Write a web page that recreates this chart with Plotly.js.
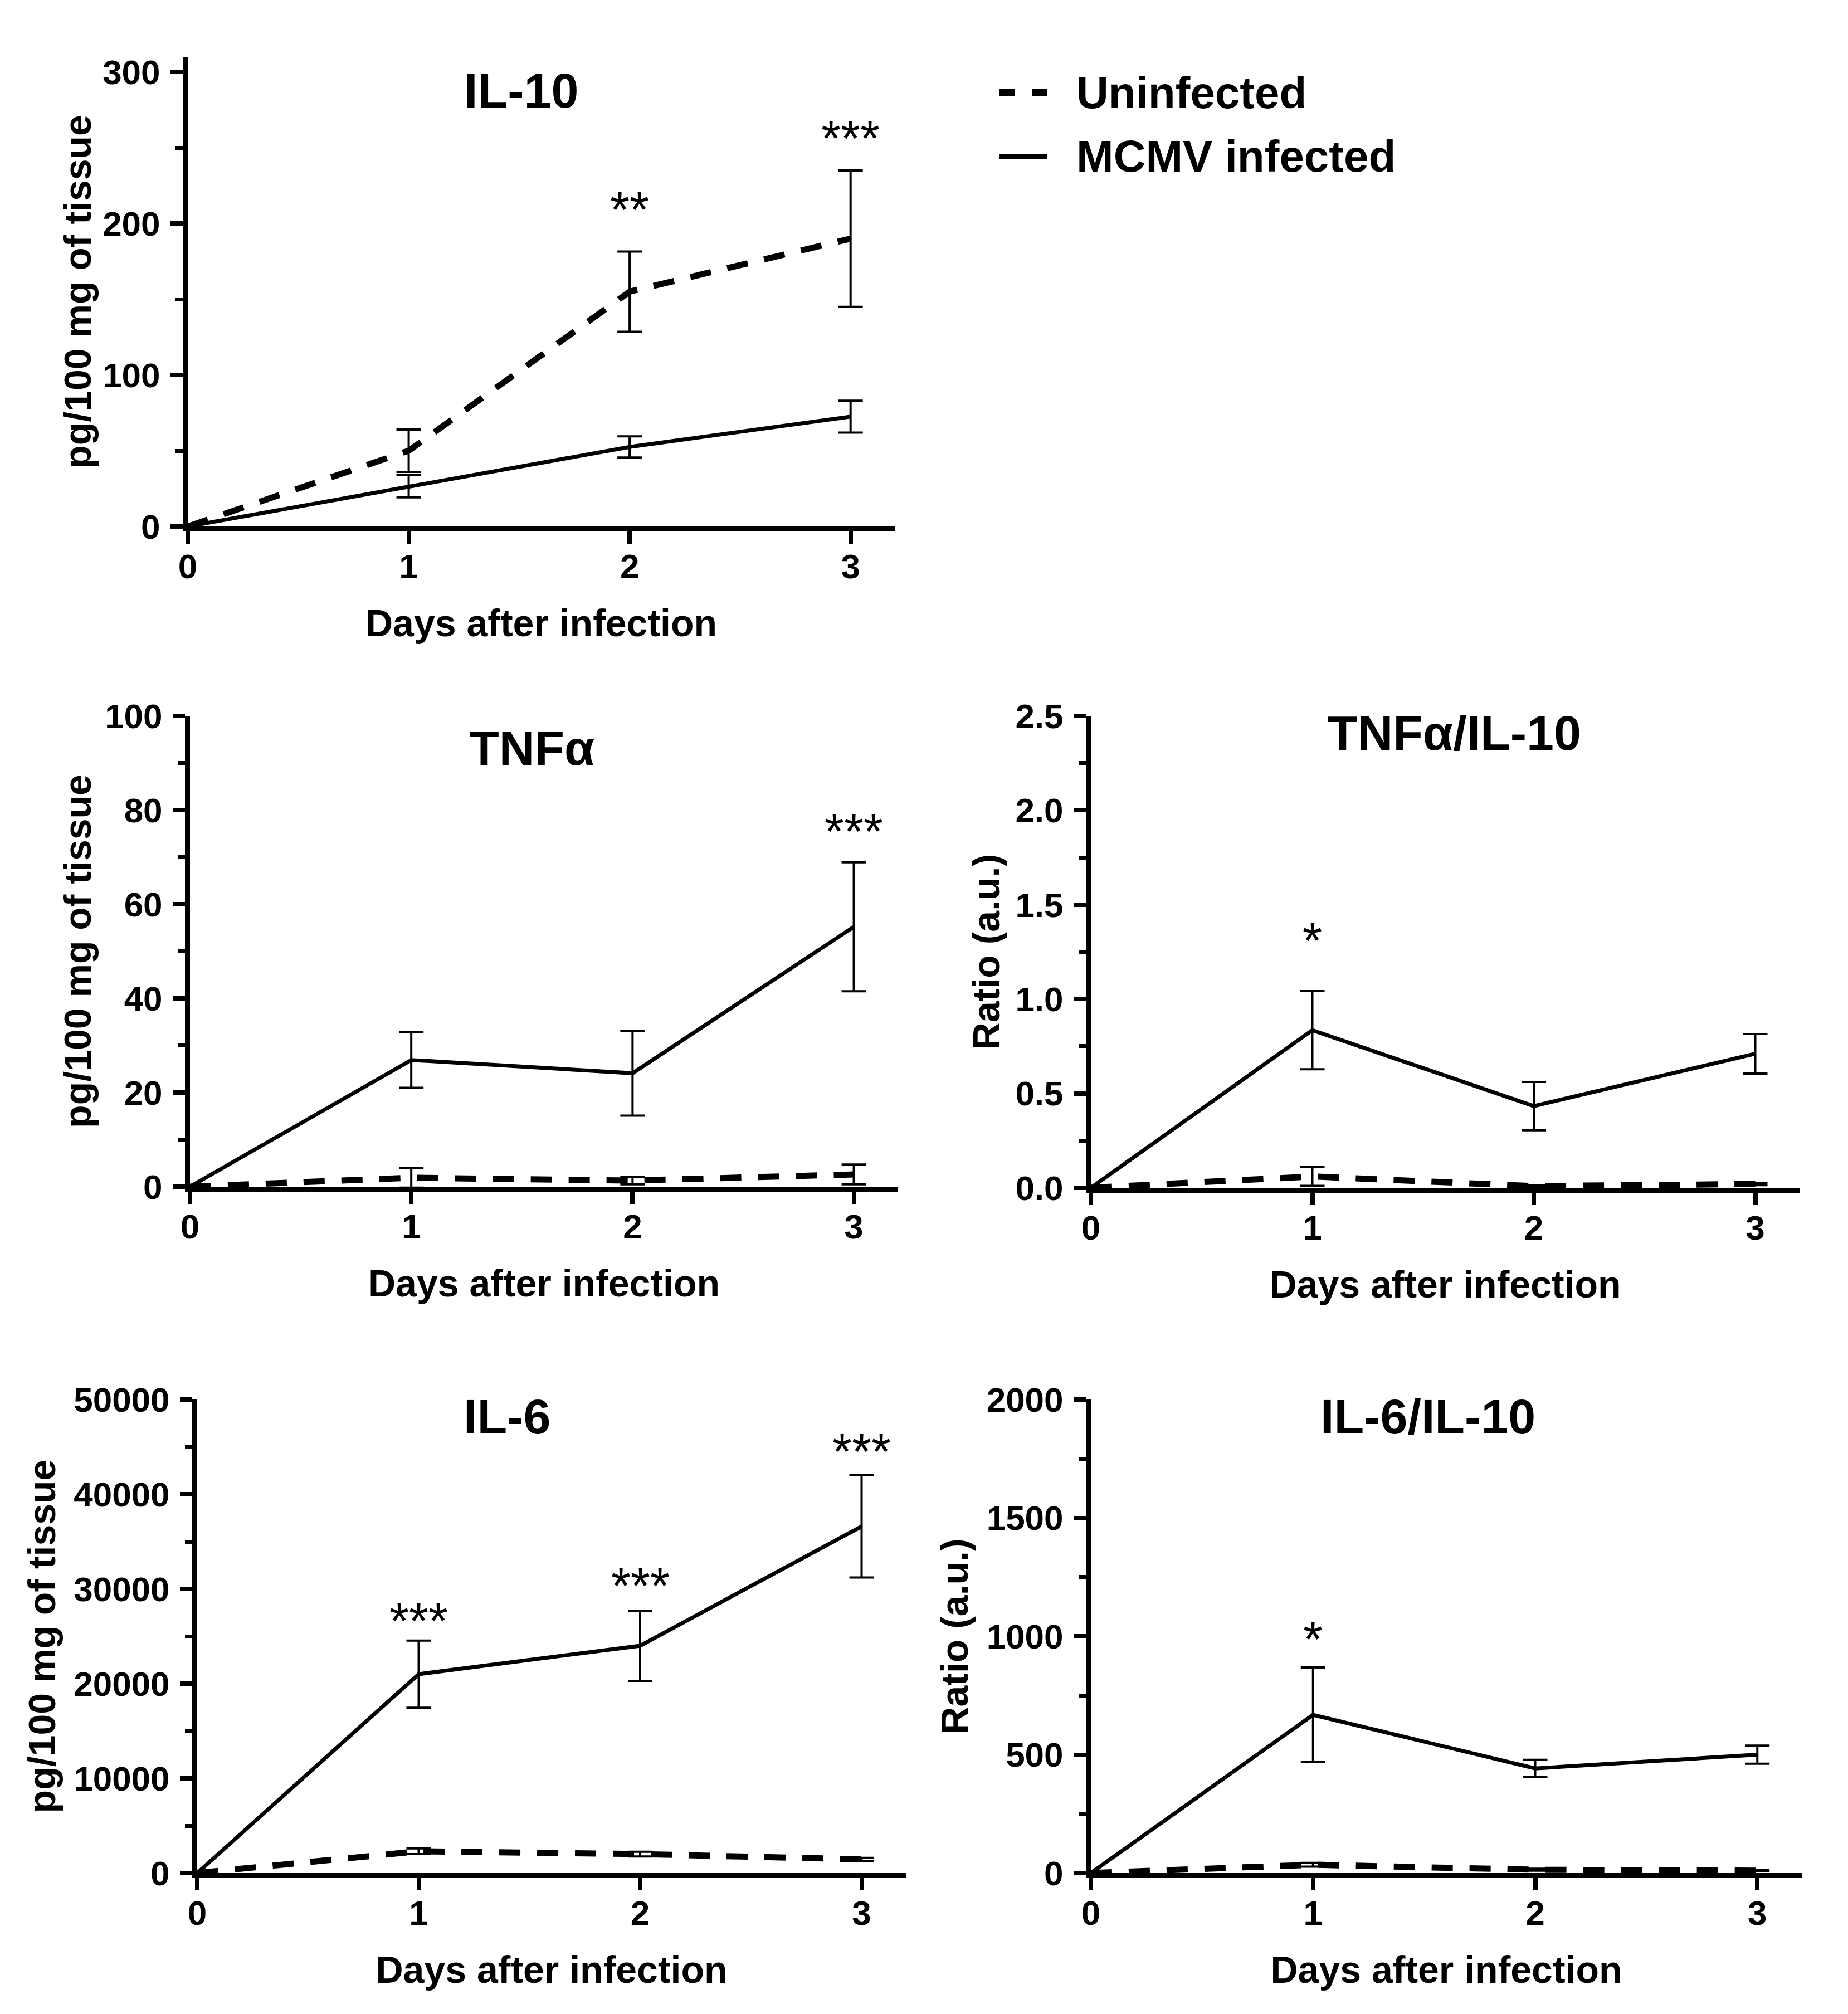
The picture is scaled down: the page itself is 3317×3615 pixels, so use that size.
<!DOCTYPE html>
<html>
<head>
<meta charset="utf-8">
<script src="https://cdn.plot.ly/plotly-3.0.1.min.js"></script>
<style>html,body{margin:0;padding:0;background:#fff;}#chart{width:3317px;height:3615px;}</style>
</head>
<body>
<div id="chart"></div>
<script>
// ---- data ----
const days = [0, 1, 2, 3];
const dayTicks = [0, 1, 2, 3];
const seriesNames = ["Uninfected", "MCMV infected"];

const il10Uninf = [0, 50, 155, 190];
const il10UninfErr = [NaN, 14, 26.5, 45];
const il10Inf = [0, 26.5, 52.5, 72.5];
const il10InfErr = [NaN, 7.3, 7, 10.5];

const tnfUninf = [0, 1.9, 1.3, 2.6];
const tnfUninfErr = [NaN, 2.1, 0.8, 2.1];
const tnfInf = [0, 26.9, 24.1, 55.2];
const tnfInfErr = [NaN, 5.9, 9, 13.7];

const tnfRatioUninf = [0, 0.06, 0.009, 0.02];
const tnfRatioUninfErr = [NaN, 0.05, 0.004, 0.006];
const tnfRatioInf = [0, 0.835, 0.433, 0.71];
const tnfRatioInfErr = [NaN, 0.207, 0.128, 0.105];

const il6Uninf = [0, 2300, 2000, 1450];
const il6UninfErr = [NaN, 300, 250, 150];
const il6Inf = [0, 21000, 24000, 36600];
const il6InfErr = [NaN, 3550, 3700, 5400];

const il6RatioUninf = [0, 35, 14, 10];
const il6RatioUninfErr = [NaN, 8, 4, 3];
const il6RatioInf = [0, 668, 442, 500];
const il6RatioInfErr = [NaN, 200, 36, 38];

// significance marks: [panel index, day, y value, text]
const sigMarks = [
  [1, 2, 212, "**"], [1, 3, 259, "***"],
  [2, 3, 76.3, "***"],
  [3, 1, 1.33, "*"],
  [4, 1, 27060, "***"], [4, 2, 30780, "***"], [4, 3, 44930, "***"],
  [5, 1, 1005, "*"]
];

const panelTitles = ["IL-10", "TNF\u03b1", "TNF\u03b1/IL-10", "IL-6", "IL-6/IL-10"];
const yTitles = ["pg/100 mg of tissue", "pg/100 mg of tissue", "Ratio (a.u.)", "pg/100 mg of tissue", "Ratio (a.u.)"];
const xTitle = "Days after infection";

// ---- layout helpers ----
const W = 3317, H = 3615;
const FONT = "Liberation Sans, Arial, Helvetica, sans-serif";
const px = v => v / W;
const py = v => 1 - v / H;

// panel geometry in pixels: [left, right, top, bottom]
const geo = [
  [337, 1606, 102, 945],
  [341, 1612, 1285, 2130],
  [1958, 3230, 1285, 2132],
  [354, 1626, 2512, 3362],
  [1958, 3234, 2512, 3362]
];
const yRanges = [[0, 310], [0, 100], [0, 2.5], [0, 50000], [0, 2000]];
const yDtick = [100, 20, 0.5, 10000, 500];
const yMinor = [50, 10, 0.25, 5000, 250];
const yFmt = ["d", "d", ".1f", "d", "d"];
const yStandoff = [2, 6, 9, 14, 14];
const titlePos = [[935, 163], [954, 1342], [2610, 1315], [910, 2542], [2563, 2542]];

const uninfSets = [
  [il10Uninf, il10UninfErr], [tnfUninf, tnfUninfErr], [tnfRatioUninf, tnfRatioUninfErr],
  [il6Uninf, il6UninfErr], [il6RatioUninf, il6RatioUninfErr]
];
const infSets = [
  [il10Inf, il10InfErr], [tnfInf, tnfInfErr], [tnfRatioInf, tnfRatioInfErr],
  [il6Inf, il6InfErr], [il6RatioInf, il6RatioInfErr]
];

const data = [];
const layout = {
  width: W, height: H,
  margin: {l: 0, r: 0, t: 0, b: 0},
  paper_bgcolor: "#fff", plot_bgcolor: "rgba(0,0,0,0)",
  font: {family: FONT, color: "#000", size: 62},
  showlegend: false,
  annotations: [],
  shapes: []
};

for (let i = 0; i < 5; i++) {
  const n = i === 0 ? "" : String(i + 1);
  const xa = "x" + n, ya = "y" + n;
  const [l, r, t, b] = geo[i];
  layout["xaxis" + n] = {
    domain: [px(l), px(r)], anchor: ya, range: [0, 3.2],
    tickvals: dayTicks, ticktext: dayTicks.map(String),
    showline: true, linewidth: 9, linecolor: "#000",
    ticks: "outside", ticklen: 22, tickwidth: 8, tickcolor: "#000",
    showgrid: false, zeroline: false, fixedrange: true,
    tickfont: {family: FONT, size: 62, weight: "bold", color: "#000"},
    ticklabelstandoff: -12,
    title: {text: xTitle, standoff: 47, font: {family: FONT, size: 68, weight: "bold", color: "#000"}}
  };
  layout["yaxis" + n] = {
    domain: [py(b), py(t)], anchor: xa, range: yRanges[i],
    dtick: yDtick[i], tick0: 0, tickformat: yFmt[i],
    showline: true, linewidth: 9, linecolor: "#000",
    ticks: "outside", ticklen: 22, tickwidth: 8, tickcolor: "#000",
    minor: {dtick: yMinor[i], tick0: 0, ticks: "outside", ticklen: 13, tickwidth: 7, tickcolor: "#000", showgrid: false},
    showgrid: false, zeroline: false, fixedrange: true,
    tickfont: {family: FONT, size: 62, weight: "bold", color: "#000"},
    ticklabelstandoff: 6,
    title: {text: yTitles[i], standoff: yStandoff[i], font: {family: FONT, size: 68, weight: "bold", color: "#000"}}
  };

  const errStyle = arr => ({type: "data", array: arr, visible: true, color: "#000", thickness: 4, width: 22});
  data.push({
    type: "scatter", mode: "lines", x: days, y: uninfSets[i][0],
    error_y: errStyle(uninfSets[i][1]),
    line: {color: "#000", width: 11, dash: "38px,30px"},
    name: seriesNames[0], legendgroup: "u", showlegend: false,
    xaxis: xa, yaxis: ya, hoverinfo: "skip", cliponaxis: false
  });
  data.push({
    type: "scatter", mode: "lines", x: days, y: infSets[i][0],
    error_y: errStyle(infSets[i][1]),
    line: {color: "#000", width: 7},
    name: seriesNames[1], legendgroup: "i", showlegend: false,
    xaxis: xa, yaxis: ya, hoverinfo: "skip", cliponaxis: false
  });

  layout.annotations.push({
    text: panelTitles[i], xref: "paper", yref: "paper",
    x: px(titlePos[i][0]), y: py(titlePos[i][1]), xanchor: "center", yanchor: "middle",
    showarrow: false, font: {family: FONT, size: 88, weight: "bold", color: "#000"}
  });
}

sigMarks.forEach(([p, d, v, s]) => {
  const n = p === 1 ? "" : String(p);
  layout.annotations.push({
    text: s, xref: "x" + n, yref: "y" + n, x: d, y: v, yshift: -8,
    xanchor: "center", yanchor: "middle", showarrow: false,
    font: {family: FONT, size: 90, color: "#000"}
  });
});

// ---- legend (drawn as key samples + labels) ----
const legendRows = [
  {name: seriesNames[0], y: 166, dash: "28px,30px", width: 12},
  {name: seriesNames[1], y: 281, dash: "solid", width: 9}
];
legendRows.forEach(row => {
  layout.shapes.push({
    type: "line", xref: "paper", yref: "paper",
    x0: px(1794), x1: px(1880), y0: py(row.y), y1: py(row.y),
    line: {color: "#000", width: row.width, dash: row.dash}
  });
  layout.annotations.push({
    text: row.name, xref: "paper", yref: "paper",
    x: px(1930), y: py(row.y), xanchor: "left", yanchor: "middle",
    showarrow: false, font: {family: FONT, size: 80, weight: "bold", color: "#000"}
  });
});

Plotly.newPlot("chart", data, layout, {staticPlot: true, displayModeBar: false});
</script>
</body>
</html>
